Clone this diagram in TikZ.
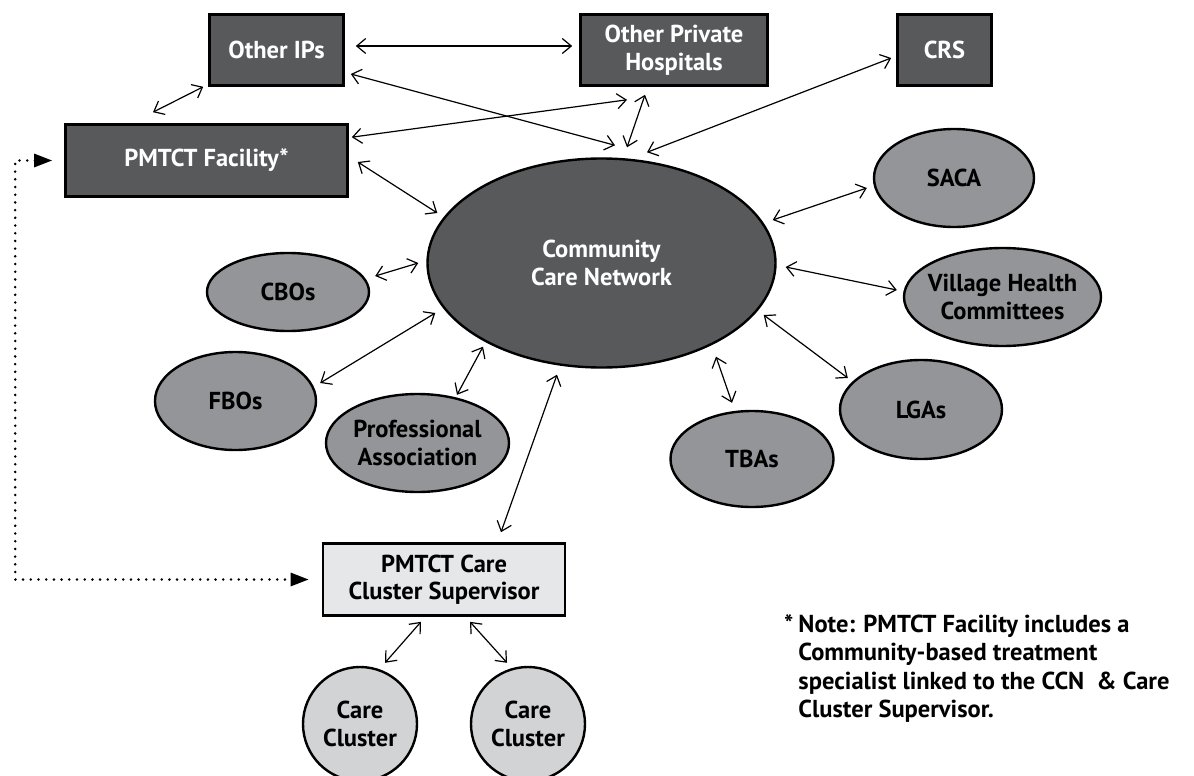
\documentclass[tikz,border=0pt]{standalone}
\usepackage{fontspec}
\setmainfont{PT Sans}
\usetikzlibrary{arrows.meta,calc,shapes.geometric}

\definecolor{darkbox}{HTML}{58595B}
\definecolor{midoval}{HTML}{939598}
\definecolor{lightbox}{HTML}{E6E7E8}
\definecolor{lightoval}{HTML}{D1D3D4}

\begin{document}
\begin{tikzpicture}[x=1pt,y=-1pt,
    every node/.style={font=\bfseries\fontsize{24.5}{27.5}\selectfont, align=center},
    darkrect/.style={draw=black, line width=2.6pt, fill=darkbox, text=white, minimum height=71pt, inner sep=2pt},
    greyoval/.style={ellipse, draw=black, line width=2.4pt, fill=midoval, inner sep=0pt},
    cluster/.style={circle, draw=black, line width=2.4pt, fill=lightoval, minimum size=114pt, inner sep=0pt},
    link/.style={line width=1.2pt, {Straight Barb[length=9pt,width=15pt]}-{Straight Barb[length=9pt,width=15pt]}},
    dotlink/.style={line width=2.8pt, line cap=round, dash pattern=on 0pt off 7.7pt, {Triangle[length=18pt,width=13pt]}-{Triangle[length=18pt,width=13pt]}}]
    \useasboundingbox (0,0) rectangle (1194,776);

    % Partners along the top
    \node[darkrect, minimum width=134pt] (oips) at (276.5,50) {Other IPs};
    \node[darkrect, minimum width=187pt] (oph) at (674,50) {Other Private\\Hospitals};
    \node[darkrect, minimum width=94pt] (crs) at (944.5,50) {CRS};
    \node[darkrect, minimum width=282pt, minimum height=72pt] (fac) at (206.5,160.5) {PMTCT Facility*};

    % The network in the middle
    \node[greyoval, fill=darkbox, text=white, minimum width=348pt, minimum height=209pt] (ccn) at (601.5,263) {Community\\Care Network};

    % Groups round the network
    \node[greyoval, minimum width=160pt, minimum height=98pt] (saca) at (954,178) {SACA};
    \node[greyoval, minimum width=197pt, minimum height=98pt, inner xsep=-10pt] (vhc) at (1002.5,297) {Village Health\\Committees};
    \node[greyoval, minimum width=162pt, minimum height=99pt] (lgas) at (921,409.5) {LGAs};
    \node[greyoval, minimum width=163pt, minimum height=96pt] (tbas) at (752,459) {TBAs};
    \node[greyoval, minimum width=162pt, minimum height=78pt] (cbos) at (288,292) {CBOs};
    \node[greyoval, minimum width=161pt, minimum height=98pt] (fbos) at (235.5,401) {FBOs};
    \node[greyoval, minimum width=183pt, minimum height=98pt, inner xsep=-8pt] (prof) at (417.5,443) {Professional\\Association};

    % Supervisor and clusters
    \node[darkrect, fill=lightbox, text=black, minimum width=242pt, minimum height=72pt] (ccs) at (444,579.5) {PMTCT Care\\Cluster Supervisor};
    \node[cluster] (cc1) at (360,724) {Care\\Cluster};
    \node[cluster] (cc2) at (528,724) {Care\\Cluster};

    % Note
    \node[anchor=north west, inner sep=0pt, font=\bfseries\fontsize{24.5}{28.5}\selectfont] (note) at (784,612) {\begin{tabular}{@{}l@{\hspace{5pt}}l@{}}*&Note: PMTCT Facility includes a\\&Community-based treatment\\&specialist linked to the CCN\ \ \& Care\\&Cluster Supervisor.\end{tabular}};

    % Links along the top
    \draw[link] ($(fac.north)+(-53.5,-11)$) -- ($(oips.south west)+(-5,0)$);
    \draw[link] ($(oips.east)+(11,-4)$) -- ($(oph.west)+(-7,-4)$);
    \draw[link] ($(oips.east)+(6,24)$) -- ($(ccn.north)+(13.5,-12)$);
    \draw[link] ($(fac.north east)+(3,14)$) -- ($(oph.south)+(-47,13)$);
    \draw[link] ($(oph.south)+(-29,8)$) -- ($(ccn.north)+(25.5,-10)$);
    \draw[link] ($(crs.west)+(-5,8)$) -- ($(ccn.north)+(45.5,-5)$);
    \draw[link] ($(fac.east)+(9,1.5)$) -- ($(ccn.west)+(11,-50)$);

    % Links on the right
    \draw[link] ($(saca.west)+(-6,10)$) -- ($(ccn.east)+(-4,-43)$);
    \draw[link] ($(ccn.east)+(9,4)$) -- ($(vhc.west)+(-6,-7)$);
    \draw[link] ($(ccn.east)+(-13,52)$) -- ($(lgas.west)+(9,-31.5)$);
    \draw[link] ($(ccn.south)+(114.5,-12)$) -- ($(tbas.north)+(-20,-7)$);

    % Links on the left
    \draw[link] ($(cbos.east)+(5,-16)$) -- ($(ccn.west)+(-8,0)$);
    \draw[link] ($(fbos.east)+(3,-18)$) -- ($(ccn.west)+(9,50)$);
    \draw[link] ($(prof.north)+(39.5,2)$) -- ($(ccn.south)+(-118.5,-22)$);

    % Links to the supervisor
    \draw[link] ($(ccs.north)+(57,-10)$) -- ($(ccn.south)+(-44.5,6)$);
    \draw[link] ($(ccs.south)+(-23,5)$) -- ($(cc1.north)+(25,-3)$);
    \draw[link] ($(ccs.south)+(26,5)$) -- ($(cc2.north)+(-21,-3)$);

    % Dotted link from facility to supervisor
    \draw[dotlink] ($(fac.west)+(-12,0)$) -| ($(ccs.west)+(-306.5,0)$) -- ($(ccs.west)+(-13,0)$);
\end{tikzpicture}
\end{document}
